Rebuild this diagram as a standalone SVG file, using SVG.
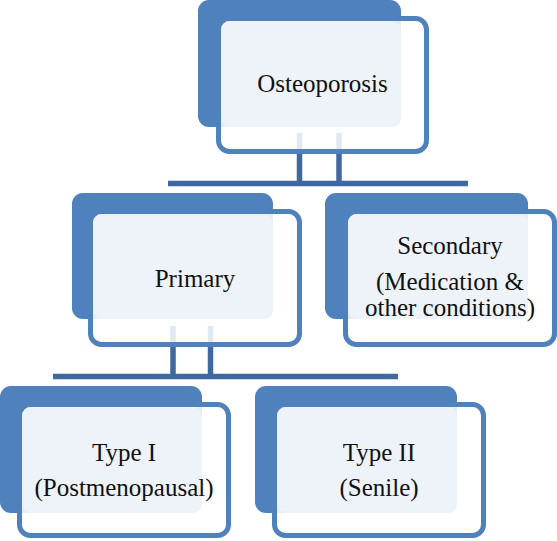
<svg xmlns="http://www.w3.org/2000/svg" width="557" height="541" viewBox="0 0 557 541">
<style>
.back{fill:#4F81BD}
.front{fill:#FFFFFF;fill-opacity:0.85;stroke:#4F81BD;stroke-width:5}
.light{fill:#EEF2F9}
.conn{stroke:#3F689E;stroke-width:5.5;fill:none}
text{font-family:'Liberation Serif','Times New Roman',Times,'DejaVu Serif',serif;font-size:25px;fill:#111111;text-anchor:middle}
</style>
<rect width="557" height="541" fill="#FFFFFF"/>
<g id="connectors">
<line class="conn" x1="299.5" y1="133" x2="299.5" y2="184"/>
<line class="conn" x1="339" y1="133" x2="339" y2="184"/>
<line class="conn" x1="168" y1="183.5" x2="468" y2="183.5"/>
<line class="conn" x1="173" y1="326" x2="173" y2="377"/>
<line class="conn" x1="210.5" y1="326" x2="210.5" y2="377"/>
<line class="conn" x1="53" y1="376.5" x2="398" y2="376.5"/>
</g>
<g id="osteoporosis">
<rect class="back" x="198" y="0" width="203" height="127" rx="11"/>
<rect class="front" x="218.5" y="18.5" width="208" height="133" rx="11"/>
<rect class="light" x="221" y="21" width="180" height="106" rx="9"/>
<text x="322.5" y="92" font-family="Liberation Serif, serif">Osteoporosis</text>
</g>
<g id="primary">
<rect class="back" x="72" y="193" width="201" height="126" rx="11"/>
<rect class="front" x="90.5" y="211.5" width="209" height="133" rx="11"/>
<rect class="light" x="93" y="214" width="180" height="105" rx="9"/>
<text x="195" y="287">Primary</text>
</g>
<g id="secondary">
<rect class="back" x="325" y="193" width="203" height="126" rx="11"/>
<rect class="front" x="345.5" y="211.5" width="209" height="133" rx="11"/>
<rect class="light" x="348" y="214" width="180" height="105" rx="9"/>
<text x="450" y="254">Secondary</text>
<text x="450" y="290">(Medication &amp;</text>
<text x="450" y="316">other conditions)</text>
</g>
<g id="type1">
<rect class="back" x="0" y="386" width="202" height="127" rx="11"/>
<rect class="front" x="19.5" y="404.5" width="209" height="131" rx="11"/>
<rect class="light" x="22" y="407" width="180" height="106" rx="9"/>
<text x="124" y="461">Type I</text>
<text x="124" y="496">(Postmenopausal)</text>
</g>
<g id="type2">
<rect class="back" x="255" y="386" width="202" height="127" rx="11"/>
<rect class="front" x="274.5" y="404.5" width="209" height="131" rx="11"/>
<rect class="light" x="277" y="407" width="180" height="106" rx="9"/>
<text x="379" y="461">Type II</text>
<text x="379" y="496">(Senile)</text>
</g>
</svg>
